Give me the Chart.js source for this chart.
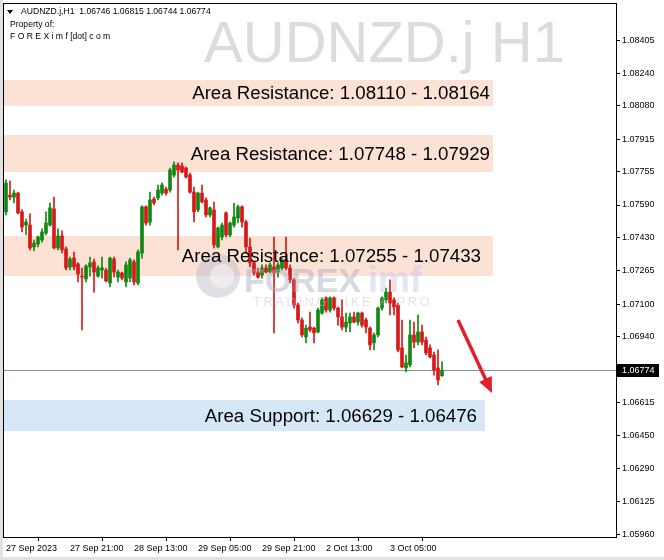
<!DOCTYPE html>
<html>
<head>
<meta charset="utf-8">
<script src="https://cdn.jsdelivr.net/npm/chart.js@4.4.0/dist/chart.umd.min.js"></script>
<style>
  html, body { margin: 0; padding: 0; background: #fff; }
  canvas { display: block; }
</style>
</head>
<body>
<canvas id="chart" width="664" height="560"></canvas>
<script>
"use strict";

const symbol = 'AUDNZD.j';
const period = 'H1';

// AUDNZD.j H1, 27 Sep 05:00 .. 3 Oct 18:00
const opens = [
    1.07556, 1.07639, 1.07629, 1.07649, 1.07556, 1.07491, 1.07491, 1.07383, 1.07397, 1.07417,
    1.07452, 1.07491, 1.07571, 1.07378, 1.07437, 1.07373, 1.07284, 1.07328, 1.07299, 1.07239,
    1.07225, 1.07284, 1.07309, 1.07239, 1.07269, 1.07269, 1.07205, 1.07323, 1.07234, 1.07254,
    1.07210, 1.07229, 1.07309, 1.07205, 1.07353, 1.07581, 1.07506, 1.07620, 1.07625, 1.07649,
    1.07669, 1.07664, 1.07738, 1.07788, 1.07783, 1.07773, 1.07738, 1.07654, 1.07566, 1.07649,
    1.07615, 1.07541, 1.07566, 1.07383, 1.07432, 1.07551, 1.07442, 1.07491, 1.07526, 1.07581,
    1.07506, 1.07383, 1.07304, 1.07259, 1.07244, 1.07279, 1.07259, 1.07284, 1.07259, 1.07279,
    1.07319, 1.07279, 1.07220, 1.07096, 1.07022, 1.06938, 1.06987, 1.06982, 1.06963, 1.07056,
    1.07131, 1.07071, 1.07131, 1.07081, 1.07037, 1.06987, 1.07007, 1.07037, 1.07012, 1.07056,
    1.07022, 1.06982, 1.06909, 1.06948, 1.07081, 1.07121, 1.07160, 1.07121, 1.07096, 1.06884,
    1.06785, 1.06800, 1.06948, 1.06913, 1.06963, 1.06923, 1.06884, 1.06849, 1.06785, 1.06746
];
const highs = [
    1.07714, 1.07709, 1.07664, 1.07654, 1.07566, 1.07521, 1.07546, 1.07417, 1.07437, 1.07472,
    1.07556, 1.07600, 1.07629, 1.07472, 1.07462, 1.07383, 1.07333, 1.07358, 1.07304, 1.07279,
    1.07294, 1.07333, 1.07323, 1.07289, 1.07333, 1.07279, 1.07333, 1.07333, 1.07269, 1.07259,
    1.07309, 1.07328, 1.07319, 1.07368, 1.07586, 1.07586, 1.07654, 1.07629, 1.07689, 1.07699,
    1.07679, 1.07773, 1.07803, 1.07798, 1.07798, 1.07778, 1.07748, 1.07679, 1.07654, 1.07689,
    1.07625, 1.07581, 1.07605, 1.07481, 1.07501, 1.07556, 1.07506, 1.07600, 1.07590, 1.07586,
    1.07516, 1.07427, 1.07309, 1.07279, 1.07294, 1.07294, 1.07304, 1.07432, 1.07304, 1.07328,
    1.07432, 1.07294, 1.07229, 1.07106, 1.07032, 1.06997, 1.07061, 1.06987, 1.07081, 1.07131,
    1.07136, 1.07136, 1.07136, 1.07086, 1.07121, 1.07056, 1.07056, 1.07061, 1.07061, 1.07061,
    1.07032, 1.06987, 1.06958, 1.07086, 1.07136, 1.07180, 1.07220, 1.07131, 1.07106, 1.07022,
    1.06849, 1.07022, 1.07012, 1.07047, 1.06997, 1.06938, 1.06899, 1.06864, 1.06874, 1.06815
];
const lows = [
    1.07541, 1.07615, 1.07600, 1.07546, 1.07457, 1.07442, 1.07368, 1.07363, 1.07383, 1.07407,
    1.07442, 1.07486, 1.07373, 1.07368, 1.07353, 1.07269, 1.07269, 1.07269, 1.07210, 1.06973,
    1.07210, 1.07239, 1.07160, 1.07234, 1.07229, 1.07210, 1.07185, 1.07234, 1.07210, 1.07220,
    1.07185, 1.07210, 1.07195, 1.07195, 1.07328, 1.07491, 1.07491, 1.07590, 1.07615, 1.07639,
    1.07639, 1.07654, 1.07728, 1.07368, 1.07748, 1.07724, 1.07649, 1.07506, 1.07556, 1.07600,
    1.07531, 1.07531, 1.07378, 1.07378, 1.07417, 1.07432, 1.07432, 1.07481, 1.07501, 1.07481,
    1.07353, 1.07284, 1.07244, 1.07229, 1.07229, 1.07254, 1.07254, 1.06958, 1.07234, 1.07269,
    1.07269, 1.07205, 1.07081, 1.07007, 1.06938, 1.06909, 1.06963, 1.06909, 1.06958, 1.07051,
    1.07061, 1.07061, 1.07071, 1.06997, 1.06973, 1.06963, 1.06963, 1.07007, 1.06997, 1.06987,
    1.06958, 1.06874, 1.06874, 1.06938, 1.07071, 1.07106, 1.07047, 1.07047, 1.06864, 1.06785,
    1.06765, 1.06790, 1.06884, 1.06899, 1.06899, 1.06849, 1.06835, 1.06750, 1.06701, 1.06744
];
const closes = [
    1.07699, 1.07629, 1.07649, 1.07551, 1.07481, 1.07506, 1.07378, 1.07402, 1.07432, 1.07457,
    1.07501, 1.07576, 1.07378, 1.07437, 1.07368, 1.07279, 1.07323, 1.07284, 1.07249, 1.07234,
    1.07289, 1.07304, 1.07259, 1.07279, 1.07279, 1.07215, 1.07328, 1.07259, 1.07259, 1.07229,
    1.07294, 1.07319, 1.07210, 1.07358, 1.07581, 1.07501, 1.07615, 1.07600, 1.07664, 1.07689,
    1.07649, 1.07763, 1.07788, 1.07763, 1.07753, 1.07728, 1.07654, 1.07556, 1.07649, 1.07605,
    1.07541, 1.07576, 1.07393, 1.07477, 1.07491, 1.07442, 1.07501, 1.07531, 1.07581, 1.07506,
    1.07383, 1.07304, 1.07254, 1.07234, 1.07279, 1.07259, 1.07294, 1.07254, 1.07294, 1.07319,
    1.07279, 1.07220, 1.07096, 1.07022, 1.06948, 1.06982, 1.06973, 1.06958, 1.07071, 1.07121,
    1.07071, 1.07131, 1.07081, 1.07037, 1.06987, 1.07012, 1.07037, 1.07012, 1.07056, 1.06997,
    1.06987, 1.06899, 1.06948, 1.07081, 1.07131, 1.07160, 1.07106, 1.07086, 1.06874, 1.06790,
    1.06810, 1.06948, 1.06913, 1.06963, 1.06913, 1.06859, 1.06840, 1.06775, 1.06726, 1.06774
];

const timeTicks = ['27 Sep 2023', '27 Sep 21:00', '28 Sep 13:00', '29 Sep 05:00', '29 Sep 21:00', '2 Oct 13:00', '3 Oct 05:00'];
const timeTickStep = 16;

const priceTicks = [1.08405, 1.08240, 1.08080, 1.07915, 1.07755, 1.07590, 1.07430, 1.07265,
    1.07100, 1.06940, 1.06615, 1.06450, 1.06290, 1.06125, 1.05960];

// areas drawn on the chart
const zoneTops = [1.08208, 1.07936, 1.07437, 1.06627];
const zoneBottoms = [1.08079, 1.07753, 1.07239, 1.06474];
const zoneEnds = [121.75, 121.75, 121.75, 119.75];
const zoneLabels = [
    'Area Resistance: 1.08110 - 1.08164',
    'Area Resistance: 1.07748 - 1.07929',
    'Area Resistance: 1.07255 - 1.07433',
    'Area Support: 1.06629 - 1.06476'
];
const zoneLabelEnds = [121, 121, 118.75, 117.75];
const zoneIsSupport = [false, false, false, true];

const arrowFrom = [113, 1.07022];
const arrowTo = [121.5, 1.06661];

const upColor = '#118811';
const downColor = '#d81818';
const font = "'Liberation Sans', Arial, sans-serif";

const last = closes.length - 1;
const candleColors = closes.map((c, i) => c >= opens[i] ? upColor : downColor);
const bodies = closes.map((c, i) => ({x: i, y: [opens[i], c]}));
const wicks = closes.map((c, i) => ({x: i, y: [lows[i], highs[i]]}));

const mtPlugin = {
    id: 'mt',
    beforeDraw(chart) {
        const {ctx, chartArea: a, scales: {x, y}} = chart;
        ctx.save();
        ctx.fillStyle = '#ffffff';
        ctx.fillRect(0, 0, chart.width, chart.height);
        ctx.fillStyle = '#e2e2e2';
        ctx.fillRect(0, 0, 3, chart.height);
        ctx.fillRect(0, chart.height - 3, chart.width, 3);

        // symbol watermark
        ctx.fillStyle = '#dcdcdc';
        ctx.font = '58px ' + font;
        ctx.textAlign = 'right';
        ctx.textBaseline = 'alphabetic';
        ctx.fillText(symbol + ' ' + period, a.right - 51, a.top + 58);

        // zones
        zoneTops.forEach((top, i) => {
            const y1 = y.getPixelForValue(top);
            const y2 = y.getPixelForValue(zoneBottoms[i]);
            const x2 = x.getPixelForValue(zoneEnds[i]);
            ctx.fillStyle = zoneIsSupport[i] ? '#d6e8f8' : '#fbe2d5';
            ctx.fillRect(a.left, y1, x2 - a.left, y2 - y1);
        });

        // current price line
        const py = Math.round(y.getPixelForValue(closes[last])) + 0.5;
        ctx.strokeStyle = '#8090a0';
        ctx.lineWidth = 1;
        ctx.beginPath();
        ctx.moveTo(a.left, py);
        ctx.lineTo(a.right, py);
        ctx.stroke();
        ctx.restore();
    },
    afterDatasetsDraw(chart) {
        const {ctx, chartArea: a, scales: {x, y}} = chart;
        ctx.save();

        // logo watermark
        ctx.globalAlpha = 0.45;
        ctx.fillStyle = '#b8b8c8';
        ctx.beginPath();
        ctx.arc(a.left + 214, a.top + 272, 22, 0, Math.PI * 2);
        ctx.fill();
        ctx.fillStyle = '#ffffff';
        ctx.beginPath();
        ctx.arc(a.left + 218, a.top + 272, 12, 0, Math.PI * 2);
        ctx.fill();
        ctx.fillStyle = '#a8a8bc';
        ctx.font = 'bold 34px ' + font;
        ctx.textAlign = 'left';
        ctx.textBaseline = 'alphabetic';
        ctx.fillText('FOREX', a.left + 240, a.top + 288);
        ctx.fillStyle = '#c9c0e8';
        ctx.font = 'bold 36px ' + font;
        ctx.fillText('imf', a.left + 364, a.top + 288);
        ctx.fillStyle = '#c0c0c8';
        ctx.font = '13px ' + font;
        ctx.letterSpacing = '2.5px';
        ctx.fillText('TRADING LIKE A PRO', a.left + 249, a.top + 302);
        ctx.letterSpacing = '0px';
        ctx.globalAlpha = 1;

        // zone labels
        ctx.fillStyle = '#000000';
        ctx.font = '18.7px ' + font;
        ctx.textAlign = 'right';
        ctx.textBaseline = 'middle';
        zoneLabels.forEach((t, i) => {
            const cy = (y.getPixelForValue(zoneTops[i]) + y.getPixelForValue(zoneBottoms[i])) / 2;
            ctx.fillText(t, x.getPixelForValue(zoneLabelEnds[i]), cy + 1);
        });

        // arrow
        const x1 = x.getPixelForValue(arrowFrom[0]), y1 = y.getPixelForValue(arrowFrom[1]);
        const x2 = x.getPixelForValue(arrowTo[0]), y2 = y.getPixelForValue(arrowTo[1]);
        const ang = Math.atan2(y2 - y1, x2 - x1);
        const head = 17;
        ctx.strokeStyle = '#e02228';
        ctx.fillStyle = '#e02228';
        ctx.lineWidth = 3.5;
        ctx.beginPath();
        ctx.moveTo(x1, y1);
        ctx.lineTo(x2 - Math.cos(ang) * head * 0.8, y2 - Math.sin(ang) * head * 0.8);
        ctx.stroke();
        ctx.beginPath();
        ctx.moveTo(x2, y2);
        ctx.lineTo(x2 - head * Math.cos(ang - 0.42), y2 - head * Math.sin(ang - 0.42));
        ctx.lineTo(x2 - head * Math.cos(ang + 0.42), y2 - head * Math.sin(ang + 0.42));
        ctx.closePath();
        ctx.fill();

        // header
        ctx.fillStyle = '#000000';
        ctx.beginPath();
        ctx.moveTo(a.left + 3, a.top + 6);
        ctx.lineTo(a.left + 9, a.top + 6);
        ctx.lineTo(a.left + 6, a.top + 10);
        ctx.closePath();
        ctx.fill();
        ctx.font = '8.6px ' + font;
        ctx.textAlign = 'left';
        ctx.textBaseline = 'middle';
        const ohlc = [opens[last], highs[last], lows[last], closes[last]].map(v => v.toFixed(5)).join(' ');
        ctx.fillText(symbol + ',' + period + '  ' + ohlc, a.left + 17, a.top + 8);
        ctx.fillText('Property of:', a.left + 6, a.top + 21);
        ctx.fillText('F O R E X i m f [dot] c o m', a.left + 6, a.top + 33);
        ctx.restore();
    },
    afterDraw(chart) {
        const {ctx, chartArea: a, scales: {y}} = chart;
        ctx.save();
        ctx.strokeStyle = '#000000';
        ctx.lineWidth = 1;
        ctx.strokeRect(a.left - 0.5, a.top - 0.5, a.right - a.left + 1, a.bottom - a.top + 1);

        // current price tag
        const py = Math.round(y.getPixelForValue(closes[last]));
        ctx.fillStyle = '#000000';
        ctx.fillRect(a.right + 1, py - 6, 42, 13);
        ctx.fillStyle = '#ffffff';
        ctx.font = '9px ' + font;
        ctx.textAlign = 'left';
        ctx.textBaseline = 'middle';
        ctx.fillText(closes[last].toFixed(5), a.right + 6, py + 0.5);
        ctx.restore();
    }
};

const chart = new Chart(document.getElementById('chart').getContext('2d'), {
    type: 'bar',
    data: {
        datasets: [{
            label: 'body',
            data: bodies,
            backgroundColor: candleColors,
            borderWidth: 0,
            barThickness: 3,
            minBarLength: 1,
            grouped: false,
        }, {
            label: 'wick',
            data: wicks,
            backgroundColor: candleColors,
            borderWidth: 0,
            barThickness: 1,
            grouped: false,
        }]
    },
    options: {
        responsive: false,
        animation: false,
        layout: {
            padding: {left: 4, top: 4, right: 0, bottom: 0}
        },
        plugins: {
            legend: {display: false},
            tooltip: {enabled: false},
        },
        scales: {
            x: {
                type: 'linear',
                offset: false,
                min: -0.5,
                max: 152.5,
                afterBuildTicks: axis => {
                    axis.ticks = timeTicks.map((t, k) => ({value: k * timeTickStep}));
                },
                afterFit: axis => {
                    axis.height = 23;
                    axis.paddingLeft = 0;
                    axis.paddingRight = 0;
                },
                ticks: {
                    autoSkip: false,
                    maxRotation: 0,
                    align: 'start',
                    padding: 2,
                    color: '#000000',
                    font: {family: font, size: 9},
                    callback: v => timeTicks[v / timeTickStep],
                },
                grid: {
                    drawOnChartArea: false,
                    tickLength: 4,
                    color: '#000000',
                },
                border: {color: '#000000'},
            },
            y: {
                position: 'right',
                min: 1.05950,
                max: 1.08583,
                afterBuildTicks: axis => {
                    axis.ticks = priceTicks.map(v => ({value: v}));
                },
                afterFit: axis => {
                    axis.width = 48;
                    axis.paddingTop = 0;
                    axis.paddingBottom = 0;
                },
                ticks: {
                    autoSkip: false,
                    padding: 2,
                    color: '#000000',
                    font: {family: font, size: 9},
                    callback: v => v.toFixed(5),
                },
                grid: {
                    drawOnChartArea: false,
                    tickLength: 4,
                    color: '#000000',
                },
                border: {color: '#000000'},
            }
        }
    },
    plugins: [mtPlugin]
});
</script>
</body>
</html>
